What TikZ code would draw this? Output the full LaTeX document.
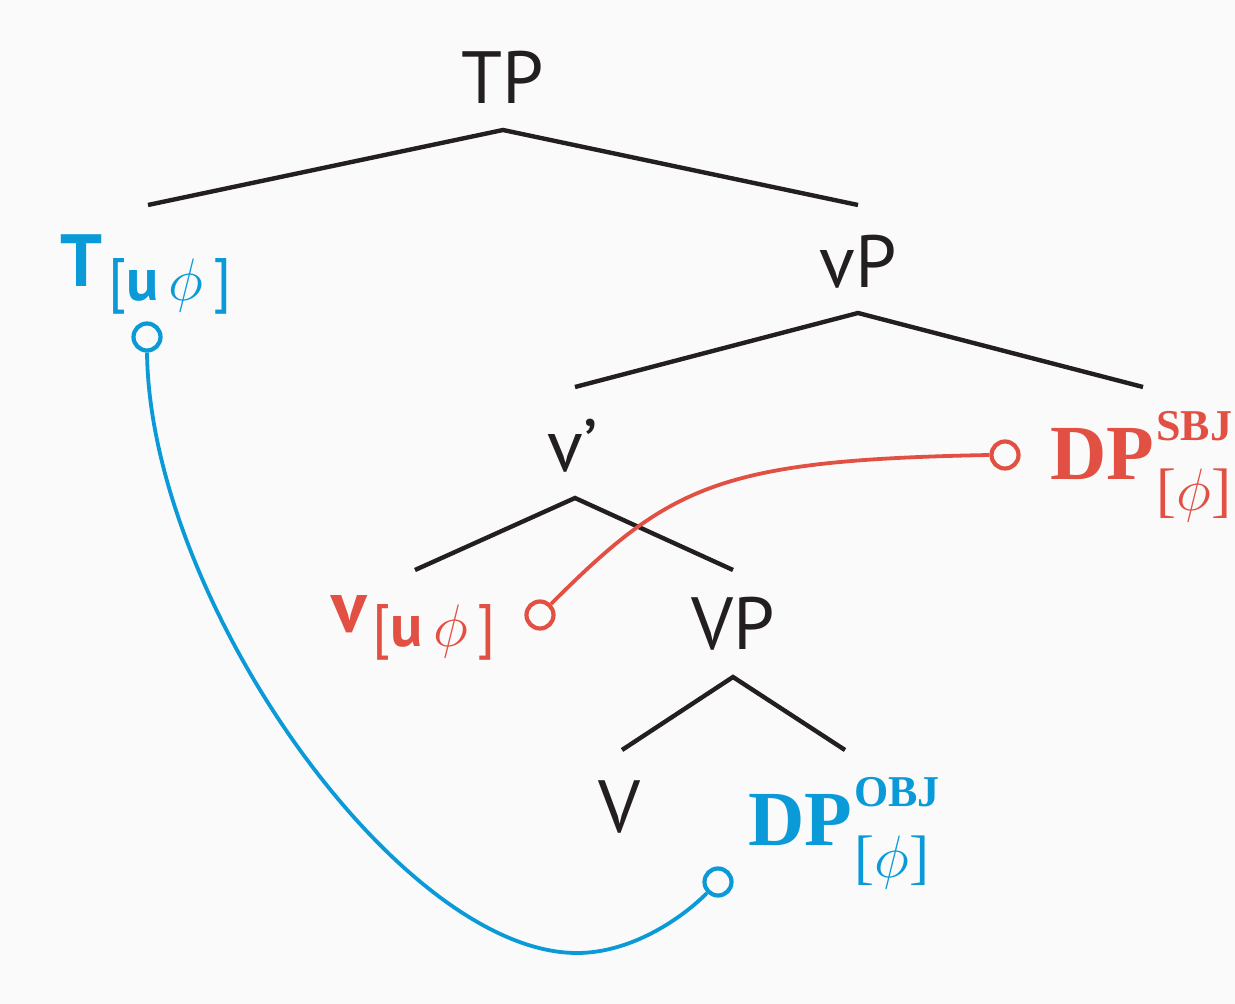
\RequirePackage{fix-cm}
\documentclass[tikz,border=0pt]{standalone}
\usepackage{fontspec}
\setmainfont{Liberation Serif}
\setsansfont{PT Sans}
\usetikzlibrary{positioning}
\definecolor{ink}{RGB}{35,31,32}
\definecolor{probeblue}{RGB}{10,154,216}
\definecolor{probered}{RGB}{226,80,68}
\definecolor{paper}{RGB}{250,250,250}

\tikzset{
  cat/.style={font=\sffamily\fontsize{37}{40}\selectfont, text=ink, inner sep=0pt, anchor=base},
  goal/.style={font=\rmfamily\bfseries\fontsize{39}{42}\selectfont, text=#1, inner sep=0pt, anchor=base west},
  branch/.style={draw=ink, line width=2.2pt},
  agree/.style={draw=#1, line width=1.9pt},
  probe/.style={circle, draw=#1, fill=paper, line width=2.1pt, minimum size=13.5pt, inner sep=0pt},
}
\newcommand{\featsub}[1]{\hspace{3pt}\raisebox{-7pt}{\fontsize{30}{32}\selectfont\mdseries[\textbf{#1}\,$\phi$\,]}}
\newcommand{\dpfeat}[2]{\hspace{1pt}\rlap{\raisebox{19.5pt}{\fontsize{22}{24}\selectfont #1}}\raisebox{-#2}{\fontsize{30}{32}\selectfont\mdseries[$\phi$]}}

\begin{document}
\begin{tikzpicture}[x=0.5pt, y=-0.5pt]
    \useasboundingbox (0,0) rectangle (1235,1004);
    \fill[paper] (0,0) rectangle (1235,1004);

    % tree labels
    \node[cat] (tp) at (503,104) {TP};
    \node[cat] (vp) at (858,288) {vP};
    \node[cat] (vbar) at (573,472) {v’};
    \node[cat] (bigvp) at (733,649) {VP};
    \node[cat] (bigv) at (620,832) {V};
    \node[cat, anchor=base west, text=probeblue] (t) at (60,287) {\bfseries T\featsub{u}};
    \node[cat, anchor=base west, text=probered] (v) at (331,632) {\bfseries v\featsub{u}};
    \node[goal=probered] (dpsbj) at (1050,480) {DP\dpfeat{SBJ}{15.5pt}};
    \node[goal=probeblue] (dpobj) at (748,845) {DP\dpfeat{OBJ}{16pt}};

    % branches
    \coordinate (tp-root) at (503,130);
    \coordinate (tp-l) at (148,205);
    \coordinate (tp-r) at (858,205);
    \coordinate (vp-root) at (858,313);
    \coordinate (vp-l) at (575,387);
    \coordinate (vp-r) at (1143,387);
    \coordinate (vbar-root) at (575,498);
    \coordinate (vbar-l) at (415,570);
    \coordinate (vbar-r) at (733,570);
    \coordinate (bigvp-root) at (733,677);
    \coordinate (bigvp-l) at (622,750);
    \coordinate (bigvp-r) at (845,750);
    \draw[branch] (tp-l) -- (tp-root) -- (tp-r);
    \draw[branch] (vp-l) -- (vp-root) -- (vp-r);
    \draw[branch] (vbar-l) -- (vbar-root) -- (vbar-r);
    \draw[branch] (bigvp-l) -- (bigvp-root) -- (bigvp-r);

    % probes and agree links
    \node[probe=probeblue] (t-probe) at (147,337) {};
    \node[probe=probered] (v-probe) at (540,615) {};
    \node[probe=probered] (dpsbj-probe) at (1005,455) {};
    \node[probe=probeblue] (dpobj-probe) at (718,882) {};
    \draw[agree=probeblue] (t-probe.south) .. controls (150,600) and (400,953) .. (577,953)
        .. controls (630,953) and (680,920) .. (dpobj-probe.225);
    \draw[agree=probered] (v-probe.45) .. controls (670,485) and (720,460) .. (dpsbj-probe.west);
\end{tikzpicture}
\end{document}
